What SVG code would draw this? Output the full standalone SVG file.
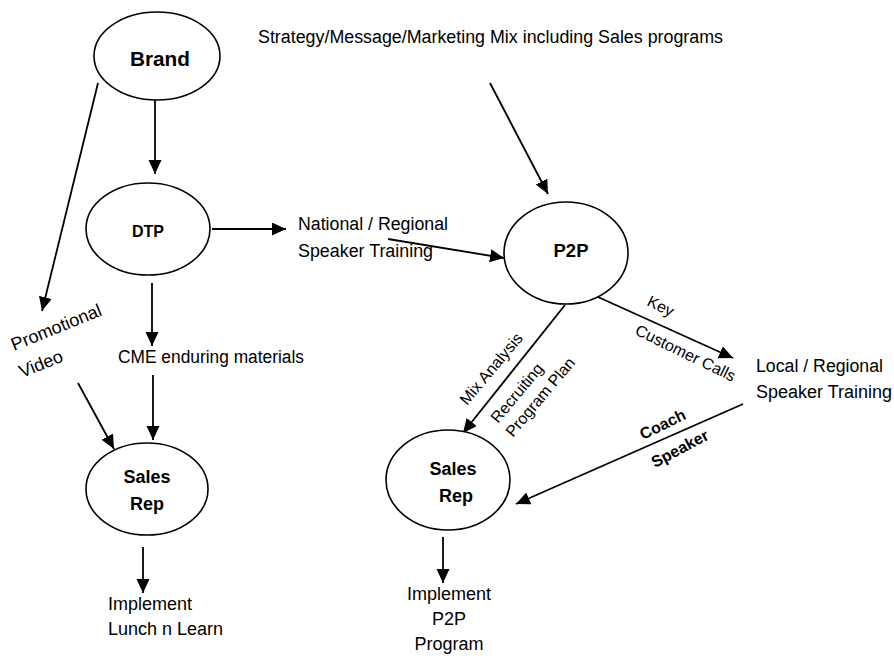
<svg xmlns="http://www.w3.org/2000/svg" width="894" height="658" viewBox="0 0 894 658">
<defs>
<marker id="ah" markerUnits="userSpaceOnUse" markerWidth="15" markerHeight="14" refX="14" refY="6.5" orient="auto">
<path d="M0,0 L14,6.5 L0,13 z" fill="#000"/>
</marker>
<style>
.node{fill:#fff;stroke:#000;stroke-width:1.6}
.nl{font-family:"Liberation Sans",Arial,sans-serif;font-weight:bold;text-anchor:middle;fill:#000}
.lb{font-family:"Liberation Sans",Arial,sans-serif;font-size:18px;fill:#000}
.rl{font-family:"Liberation Sans",Arial,sans-serif;font-size:16px;fill:#000}
.rb{font-family:"Liberation Sans",Arial,sans-serif;font-size:16px;font-weight:bold;fill:#000}
.c{stroke:#000;stroke-width:1.8;fill:none;marker-end:url(#ah)}
</style>
</defs>
<rect width="894" height="658" fill="#fff"/>
<g id="connectors">
<line class="c" x1="155" y1="100" x2="155" y2="174"/>
<line class="c" x1="98" y1="83" x2="42" y2="311"/>
<line class="c" x1="212" y1="229" x2="286" y2="229"/>
<line class="c" x1="388" y1="239" x2="504" y2="258"/>
<line class="c" x1="490" y1="83" x2="548" y2="194"/>
<line class="c" x1="152" y1="283" x2="152" y2="346"/>
<line class="c" x1="153" y1="375" x2="153" y2="440"/>
<line class="c" x1="78" y1="383" x2="114" y2="449"/>
<line class="c" x1="565" y1="305" x2="463" y2="433"/>
<line class="c" x1="598" y1="297" x2="733" y2="358"/>
<line class="c" x1="743" y1="404" x2="516" y2="504"/>
<line class="c" x1="143" y1="547" x2="143" y2="593"/>
<line class="c" x1="443" y1="537" x2="443" y2="583"/>
</g>
<g id="brand">
<ellipse class="node" cx="157" cy="56" rx="63" ry="44"/>
<text class="nl" x="160" y="66" font-size="21" textLength="60" lengthAdjust="spacingAndGlyphs">Brand</text>
</g>
<g id="dtp">
<ellipse class="node" cx="148" cy="229" rx="62" ry="46"/>
<text class="nl" x="148" y="237" font-size="17" textLength="32" lengthAdjust="spacingAndGlyphs">DTP</text>
</g>
<g id="p2p">
<ellipse class="node" cx="566" cy="253" rx="62" ry="51"/>
<text class="nl" x="571" y="257" font-size="18.5">P2P</text>
</g>
<g id="sales-rep-left">
<ellipse class="node" cx="147" cy="489" rx="61" ry="46"/>
<text class="nl" x="147" y="483" font-size="18">Sales</text>
<text class="nl" x="147" y="510" font-size="18">Rep</text>
</g>
<g id="sales-rep-right">
<ellipse class="node" cx="448" cy="480" rx="62" ry="50"/>
<text class="nl" x="453" y="475" font-size="18">Sales</text>
<text class="nl" x="456" y="502" font-size="18">Rep</text>
</g>
<g id="labels">
<text class="lb" x="258" y="43" textLength="465" lengthAdjust="spacingAndGlyphs">Strategy/Message/Marketing Mix including Sales programs</text>
<text class="lb" x="298" y="230" textLength="150" lengthAdjust="spacingAndGlyphs">National / Regional</text>
<text class="lb" x="298" y="257" textLength="135" lengthAdjust="spacingAndGlyphs">Speaker Training</text>
<text class="lb" x="756" y="372" textLength="127" lengthAdjust="spacingAndGlyphs">Local / Regional</text>
<text class="lb" x="756" y="398" textLength="136" lengthAdjust="spacingAndGlyphs">Speaker Training</text>
<text class="lb" x="118" y="363" textLength="186" lengthAdjust="spacingAndGlyphs">CME enduring materials</text>
<text class="lb" x="108" y="610">Implement</text>
<text class="lb" x="108" y="635">Lunch n Learn</text>
<text class="lb" x="449" y="600" text-anchor="middle">Implement</text>
<text class="lb" x="449" y="625" text-anchor="middle">P2P</text>
<text class="lb" x="449" y="650" text-anchor="middle">Program</text>
<text class="lb" transform="translate(14,351) rotate(-22)" font-size="17.5">Promotional</text>
<text class="lb" transform="translate(22,378) rotate(-22)" font-size="17.5">Video</text>
<text class="rl" transform="translate(467,406) rotate(-50)">Mix Analysis</text>
<text class="rl" transform="translate(498,424) rotate(-50)">Recruiting</text>
<text class="rl" transform="translate(513,438) rotate(-50)">Program Plan</text>
<text class="rl" transform="translate(646,305) rotate(26)">Key</text>
<text class="rl" transform="translate(634,334) rotate(26)">Customer Calls</text>
<text class="rb" transform="translate(643,440) rotate(-26)">Coach</text>
<text class="rb" transform="translate(655,468) rotate(-28)">Speaker</text>
</g>
</svg>
